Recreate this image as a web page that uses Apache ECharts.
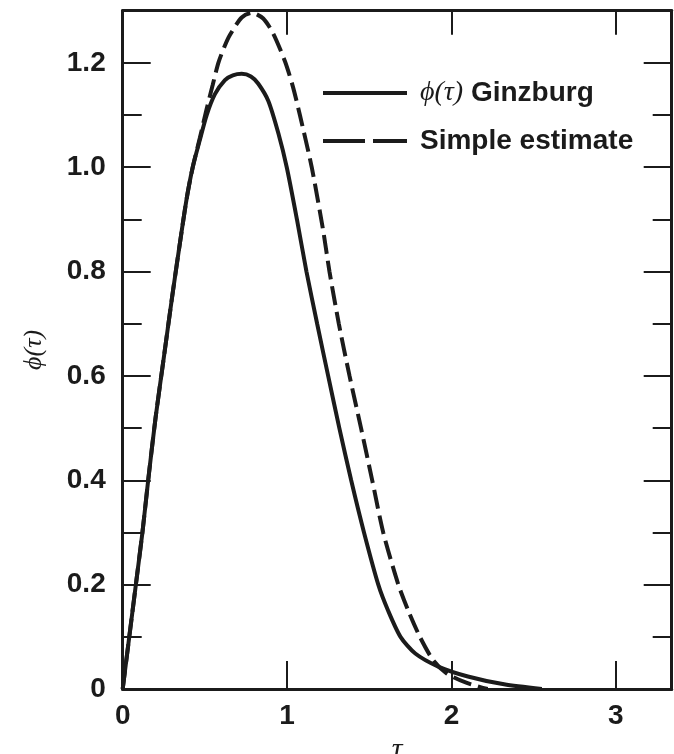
<!DOCTYPE html>
<html>
<head>
<meta charset="utf-8">
<script src="https://cdn.jsdelivr.net/npm/echarts@6/dist/echarts.min.js"></script>
<style>
html,body{margin:0;padding:0;background:#ffffff;}
#chart{width:674px;height:754px;}
</style>
</head>
<body>
<div id="chart"></div>
<script>
// Ginzburg curve phi(tau)
const ginzburgTau = [0, 0.04, 0.08, 0.12, 0.155, 0.2, 0.25, 0.3, 0.359, 0.392, 0.426, 0.47, 0.511, 0.561, 0.622, 0.67, 0.724, 0.78, 0.825, 0.886, 0.947, 0.998, 1.06, 1.118, 1.183, 1.25, 1.318, 1.39, 1.468, 1.555, 1.615, 1.69, 1.78, 1.92, 2.1, 2.32, 2.55];
const ginzburgPhi = [0, 0.10, 0.20, 0.30, 0.40, 0.52, 0.635, 0.75, 0.878, 0.945, 1.0, 1.053, 1.10, 1.14, 1.167, 1.176, 1.179, 1.174, 1.16, 1.127, 1.065, 1.0, 0.9, 0.8, 0.7, 0.6, 0.5, 0.4, 0.3, 0.2, 0.15, 0.1, 0.068, 0.043, 0.024, 0.009, 0.0];
// Simple estimate
const simpleTau = [0, 0.04, 0.08, 0.12, 0.155, 0.2, 0.25, 0.3, 0.359, 0.392, 0.426, 0.47, 0.511, 0.547, 0.582, 0.62, 0.653, 0.724, 0.785, 0.855, 0.916, 0.987, 1.035, 1.078, 1.15, 1.22, 1.258, 1.315, 1.38, 1.45, 1.518, 1.585, 1.677, 1.74, 1.808, 1.889, 1.97, 2.09, 2.22];
const simplePhi = [0, 0.10, 0.20, 0.30, 0.40, 0.52, 0.635, 0.75, 0.878, 0.945, 1.0, 1.057, 1.112, 1.157, 1.20, 1.232, 1.254, 1.287, 1.296, 1.285, 1.256, 1.203, 1.155, 1.10, 1.0, 0.878, 0.8, 0.7, 0.6, 0.5, 0.4, 0.3, 0.2, 0.148, 0.1, 0.055, 0.03, 0.012, 0.0];
const seriesNames = ['Ginzburg', 'Simple estimate'];
const xTickLabels = ['0', '1', '2', '3'];
const yTickLabels = ['0', '0.2', '0.4', '0.6', '0.8', '1.0', '1.2'];

const ink = '#1b1b1b';
const labelFont = '"Liberation Sans", Arial, sans-serif';
const serifFont = '"Liberation Serif", "DejaVu Serif", serif';
const X_MIN = 0, X_MAX = 3.34, Y_MIN = 0, Y_MAX = 1.3;

function pairs(xs, ys) { return xs.map((x, i) => [x, ys[i]]); }

const chart = echarts.init(document.getElementById('chart'), null, {renderer: 'canvas'});

const yBase = {
  type: 'value', min: Y_MIN, max: Y_MAX, splitLine: {show: false},
  axisLine: {show: true, onZero: false, lineStyle: {color: ink, width: 3}}
};

chart.setOption({
  backgroundColor: '#ffffff',
  animation: false,
  grid: {left: 122.7, right: 2.3, top: 10.7, bottom: 65, containLabel: false, outerBoundsMode: 'none'},
  legend: {
    orient: 'vertical', left: 318, top: 73, itemWidth: 84, itemHeight: 4, itemGap: 18,
    textStyle: {
      color: ink, fontFamily: labelFont, fontWeight: 'bold', fontSize: 28, lineHeight: 30,
      padding: [0, 0, 0, 8],
      rich: {
        s: {fontFamily: serifFont, fontStyle: 'italic', fontWeight: 'normal', fontSize: 28, color: ink, lineHeight: 30},
        b: {fontFamily: labelFont, fontWeight: 'bold', fontSize: 28, color: ink, lineHeight: 30}
      }
    },
    formatter: function (name) {
      if (name === seriesNames[0]) return '{s|\u03d5(\u03c4)}{b| ' + name + '}';
      return '{b|' + name + '}';
    },
    data: [
      {name: seriesNames[0], icon: 'path://M0,0H84V4H0Z', itemStyle: {color: ink}},
      {name: seriesNames[1], icon: 'path://M0,0H42V4H0Z M50,0H84V4H50Z', itemStyle: {color: ink}}
    ]
  },
  xAxis: [
    {
      type: 'value', position: 'bottom', min: X_MIN, max: X_MAX, interval: 1,
      name: '\u03c4', nameLocation: 'middle', nameGap: 44,
      nameTextStyle: {fontFamily: serifFont, fontStyle: 'italic', fontSize: 30, color: ink},
      axisLine: {show: true, onZero: false, lineStyle: {color: ink, width: 3}},
      axisTick: {show: true, inside: true, length: 28, lineStyle: {color: ink, width: 2}},
      axisLabel: {show: true, margin: 13, color: ink, fontFamily: labelFont, fontWeight: 'bold', fontSize: 28,
        showMaxLabel: false,
        formatter: function (v) { const i = Math.round(v); return Math.abs(v - i) < 1e-6 && xTickLabels[i] !== undefined ? xTickLabels[i] : ''; }},
      splitLine: {show: false}
    },
    {
      type: 'value', position: 'top', min: X_MIN, max: X_MAX, interval: 1,
      axisLine: {show: true, onZero: false, lineStyle: {color: ink, width: 3}},
      axisTick: {show: true, inside: true, length: 24, lineStyle: {color: ink, width: 2}},
      axisLabel: {show: false}, splitLine: {show: false}
    }
  ],
  yAxis: [
    Object.assign({}, yBase, {
      position: 'left', interval: 0.2,
      name: '\u03d5(\u03c4)', nameLocation: 'middle', nameGap: 76, nameRotate: 90,
      nameTextStyle: {fontFamily: serifFont, fontStyle: 'italic', fontSize: 26, color: ink},
      axisTick: {show: true, inside: true, length: 28, lineStyle: {color: ink, width: 2}},
      axisLabel: {show: true, margin: 17, color: ink, fontFamily: labelFont, fontWeight: 'bold', fontSize: 28,
        showMaxLabel: false,
        formatter: function (v) { const i = Math.round(v / 0.2); return Math.abs(v - i * 0.2) < 1e-6 && yTickLabels[i] !== undefined ? yTickLabels[i] : ''; }}
    }),
    Object.assign({}, yBase, {
      position: 'left', interval: 0.1,
      axisTick: {show: true, inside: true, length: 19, lineStyle: {color: ink, width: 2}},
      axisLabel: {show: false}
    }),
    Object.assign({}, yBase, {
      position: 'right', interval: 0.2,
      axisTick: {show: true, inside: true, length: 28, lineStyle: {color: ink, width: 2}},
      axisLabel: {show: false}
    }),
    Object.assign({}, yBase, {
      position: 'right', interval: 0.1,
      axisTick: {show: true, inside: true, length: 19, lineStyle: {color: ink, width: 2}},
      axisLabel: {show: false}
    })
  ],
  series: [
    {
      name: seriesNames[0], type: 'line', xAxisIndex: 0, yAxisIndex: 0,
      data: pairs(ginzburgTau, ginzburgPhi), smooth: 0.25, symbol: 'none',
      lineStyle: {color: ink, width: 4, type: 'solid'}, itemStyle: {color: ink}, z: 3
    },
    {
      name: seriesNames[1], type: 'line', xAxisIndex: 0, yAxisIndex: 0,
      data: pairs(simpleTau, simplePhi), smooth: 0.25, symbol: 'none',
      lineStyle: {color: ink, width: 4, type: [19, 7]}, itemStyle: {color: ink}, z: 2
    }
  ]
});
</script>
</body>
</html>
